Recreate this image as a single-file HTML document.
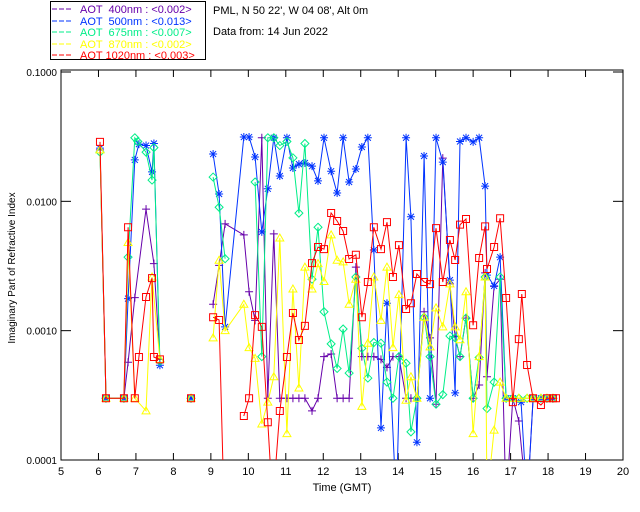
<!DOCTYPE html>
<html><head><meta charset="utf-8"><style>
html,body{margin:0;padding:0;background:#fff;width:640px;height:512px;overflow:hidden;}
svg{display:block;font-family:"Liberation Sans",sans-serif;}
</style></head><body>
<svg id="chart" width="640" height="512" viewBox="0 0 640 512" xmlns="http://www.w3.org/2000/svg">
<defs><clipPath id="pc"><rect x="61" y="70" width="562" height="390"/></clipPath></defs>
<g>
<rect x="50.5" y="1.5" width="155" height="58" fill="#fff" stroke="#000"/>
<g font-size="11">
<line x1="52" y1="9" x2="73" y2="9" stroke="#6600aa" stroke-dasharray="5,2"/><text x="80" y="13" fill="#6600aa" xml:space="preserve">AOT  400nm : &lt;0.002&gt;</text>
<line x1="52" y1="21" x2="73" y2="21" stroke="#0033ff" stroke-dasharray="5,2"/><text x="80" y="25" fill="#0033ff" xml:space="preserve">AOT  500nm : &lt;0.013&gt;</text>
<line x1="52" y1="32" x2="73" y2="32" stroke="#00ee88" stroke-dasharray="5,2"/><text x="80" y="36" fill="#00ee88" xml:space="preserve">AOT  675nm : &lt;0.007&gt;</text>
<line x1="52" y1="44" x2="73" y2="44" stroke="#ffff00" stroke-dasharray="5,2"/><text x="80" y="48" fill="#ffff00" xml:space="preserve">AOT  870nm : &lt;0.002&gt;</text>
<line x1="52" y1="55" x2="73" y2="55" stroke="#ff0000" stroke-dasharray="5,2"/><text x="80" y="59" fill="#ff0000" xml:space="preserve">AOT 1020nm : &lt;0.003&gt;</text>
</g></g>
<text x="213" y="14" font-size="11">PML, N 50 22', W 04 08', Alt 0m</text>
<text x="213" y="35" font-size="11">Data from: 14 Jun 2022</text>
<rect x="61" y="70" width="562" height="390" fill="none" stroke="#000"/>
<g id="axes"></g>
<g id="series" clip-path="url(#pc)"></g>
<text x="342" y="491" font-size="11" text-anchor="middle">Time (GMT)</text>
<text x="0" y="0" font-size="10" text-anchor="middle" transform="translate(15,268) rotate(-90)">Imaginary Part of Refractive Index</text>
</svg>
<script>
const xTicks=[5,6,7,8,9,10,11,12,13,14,15,16,17,18,19,20];
const yTicks=[0.1,0.01,0.001,0.0001];
const yTickLabels=["0.1000","0.0100","0.0010","0.0001"];
const t400=[6.04,6.20,6.68,6.79,6.97,7.27,7.48,7.64,8.47,9.06,9.22,9.38,9.88,10.02,10.18,10.36,10.52,10.68,10.84,11.03,11.19,11.35,11.51,11.70,11.86,12.02,12.21,12.37,12.53,12.69,12.87,13.03,13.19,13.35,13.54,13.70,13.86,14.02,14.21,14.34,14.50,14.69,14.85,15.01,15.19,15.38,15.52,15.65,15.81,16.00,16.16,16.32,16.37,16.56,16.72,16.88,17.06,17.22,17.44,17.60,17.81,17.97,18.13];
const v400=[0.025,0.0003,0.0003,0.00057,0.0018,0.0087,0.0033,0.0006,0.0003,0.0016,0.0032,0.0067,0.0055,0.002,0.0012,0.031,0.0003,0.0056,0.0003,0.0003,0.0003,0.0003,0.0003,0.00024,0.0003,0.00063,0.00066,0.0003,0.0003,0.0003,0.0031,0.00063,0.00063,0.00063,0.0006,0.00052,0.00063,0.00063,0.0003,0.0003,0.0003,0.0014,0.00088,0.00027,0.0216,0.0023,0.0009,0.00063,0.00125,0.0003,0.00038,0.0028,0.00044,0.0022,0.0025,0.00003,0.0003,0.0002,0.00003,0.0003,0.0003,0.0003,0.0003];
const t500=[6.04,6.20,6.68,6.79,6.97,7.08,7.27,7.43,7.48,7.64,8.47,9.06,9.22,9.38,9.88,10.02,10.18,10.36,10.52,10.68,10.84,11.03,11.19,11.35,11.51,11.70,11.86,12.02,12.21,12.37,12.53,12.69,12.87,13.03,13.19,13.35,13.54,13.70,13.95,14.21,14.34,14.50,14.69,14.85,15.01,15.19,15.38,15.52,15.65,15.81,16.00,16.16,16.32,16.37,16.56,16.72,16.88,17.06,17.28,17.44,17.60,17.81,17.97,18.13];
const v500=[0.0258,0.0003,0.0003,0.00177,0.0209,0.0277,0.027,0.0169,0.028,0.00054,0.0003,0.0232,0.0114,0.00107,0.0314,0.0314,0.022,0.0058,0.0125,0.031,0.0157,0.031,0.0181,0.0194,0.0198,0.0187,0.0144,0.031,0.0171,0.0116,0.031,0.0141,0.0178,0.0263,0.031,0.0042,0.000177,0.00163,0.00003,0.031,0.0076,0.000137,0.0224,0.0003,0.031,0.0201,0.00246,0.00033,0.029,0.031,0.0288,0.031,0.0131,0.00269,0.00222,0.0037,0.0003,0.0003,0.00028,0.00003,0.0003,0.0003,0.0003,0.0003];
const t675=[6.04,6.20,6.68,6.79,6.97,7.05,7.27,7.43,7.48,7.64,8.47,9.06,9.22,9.38,10.18,10.36,10.52,10.68,10.84,11.03,11.19,11.35,11.51,11.70,11.86,12.02,12.21,12.37,12.53,12.69,12.87,13.03,13.19,13.35,13.54,13.70,13.86,14.02,14.21,14.34,14.50,14.69,14.85,15.01,15.19,15.38,15.52,15.65,15.81,16.00,16.16,16.32,16.37,16.56,16.72,16.88,17.06,17.22,17.44,17.60,17.81,17.97,18.13];
const v675=[0.024,0.0003,0.0003,0.0037,0.031,0.029,0.024,0.0146,0.026,0.00058,0.0003,0.0154,0.009,0.0036,0.0141,0.00063,0.031,0.031,0.027,0.029,0.0217,0.0081,0.028,0.0025,0.0063,0.0014,0.00079,0.00051,0.00103,0.00047,0.0026,0.00073,0.00043,0.00081,0.0008,0.0004,0.0003,0.00063,0.00056,0.000165,0.0003,0.00127,0.00063,0.00027,0.00032,0.00091,0.00088,0.00063,0.00125,0.0003,0.00062,0.0026,0.00025,0.0004,0.0026,0.0003,0.0003,0.0003,0.0003,0.0003,0.0003,0.0003,0.0003];
const t870=[6.04,6.20,6.68,6.79,6.97,7.27,7.43,7.64,8.47,9.06,9.22,9.38,9.88,10.02,10.18,10.36,10.52,10.68,10.84,11.03,11.19,11.35,11.51,11.70,11.86,12.02,12.21,12.37,12.53,12.69,12.87,13.03,13.19,13.35,13.54,13.70,13.86,14.02,14.21,14.34,14.50,14.69,14.85,15.01,15.19,15.38,15.52,15.65,15.81,16.00,16.16,16.32,16.37,16.56,16.72,16.88,17.06,17.22,17.44,17.60,17.81,17.97,18.13];
const v870=[0.025,0.0003,0.0003,0.0048,0.0003,0.00024,0.0026,0.0006,0.0003,0.00088,0.0035,0.001,0.0016,0.00074,0.00061,0.00019,0.00028,0.00044,0.0052,0.00016,0.0021,0.00036,0.0031,0.0021,0.0033,0.0024,0.0055,0.0035,0.0034,0.0016,0.0025,0.00026,0.0008,0.0026,0.0012,0.0031,0.00074,0.0019,0.00029,0.00044,0.0003,0.00127,0.00075,0.0015,0.00107,0.0023,0.00107,0.00085,0.002,0.00016,0.00063,0.0026,0.00005,0.00017,0.0004,0.0003,0.0003,0.0003,0.0003,0.0003,0.0003,0.0003,0.0003];
const t1020=[6.04,6.20,6.68,6.79,6.97,7.08,7.27,7.43,7.48,7.64,8.47,9.06,9.22,9.35,9.88,10.02,10.18,10.36,10.52,10.65,10.84,11.03,11.19,11.35,11.51,11.70,11.86,12.02,12.21,12.37,12.53,12.69,12.87,13.03,13.19,13.35,13.54,13.70,13.86,14.02,14.21,14.34,14.50,14.69,14.85,15.01,15.19,15.38,15.52,15.65,15.81,16.00,16.16,16.32,16.37,16.56,16.72,16.88,17.06,17.22,17.30,17.44,17.60,17.81,17.97,18.13,18.21];
const v1020=[0.0288,0.0003,0.0003,0.0063,0.0003,0.000625,0.00182,0.00255,0.000625,0.0006,0.0003,0.00127,0.00121,0.00002,0.000219,0.0003,0.00132,0.00107,0.000196,0.00003,0.000239,0.000625,0.00137,0.000846,0.00109,0.00333,0.00443,0.00427,0.00812,0.00704,0.00589,0.00358,0.00386,0.00127,0.00238,0.0063,0.00427,0.0069,0.0026,0.00459,0.00147,0.00163,0.00274,0.00238,0.00229,0.0062,0.00238,0.00502,0.00352,0.0066,0.0073,0.0011,0.00365,0.0064,0.003,0.00443,0.0074,0.00179,0.00028,0.00086,0.00192,0.000542,0.0003,0.000266,0.0003,0.0003,0.0003];

const NS='http://www.w3.org/2000/svg';
function xs(t){return 61+(t-5)*562/15;}
function ys(v){return 72+(-1-Math.log10(v))*129.33;}
function mk(tag,attrs,parent){const e=document.createElementNS(NS,tag);for(const k in attrs)e.setAttribute(k,attrs[k]);parent.appendChild(e);return e;}
const axes=document.getElementById('axes');
xTicks.forEach(t=>{
  const x=xs(t);
  const a=mk('line',{x1:x,y1:460,x2:x,y2:453,stroke:'#000'},axes);
  
  
  mk('line',{x1:x,y1:70,x2:x,y2:77,stroke:'#000'},axes);
  const l=mk('text',{x:x,y:475,'font-size':11,'text-anchor':'middle'},axes);
  l.textContent=t;
  
  
});
yTicks.forEach((v,i)=>{
  const y=ys(v);
  const a=mk('line',{x1:61,y1:y,x2:71,y2:y,stroke:'#000'},axes);
  
  
  mk('line',{x1:623,y1:y,x2:613,y2:y,stroke:'#000'},axes);
  const l=mk('text',{x:57,y:y+4,'font-size':10,'text-anchor':'end'},axes);
  l.textContent=yTickLabels[i];
  
  
});
function sym(type,x,y,c,g){
  let d='';
  if(type==='plus')d=`M${x-4},${y}h8M${x},${y-4}v8`;
  else if(type==='ast')d=`M${x-4},${y}h8M${x},${y-4}v8M${x-3},${y-3}l6,6M${x-3},${y+3}l6,-6`;
  else if(type==='dia')d=`M${x},${y-4}l4,4l-4,4l-4,-4z`;
  else if(type==='tri')d=`M${x},${y-4}l4,7h-8z`;
  else d=`M${x-3.5},${y-3.5}h7v7h-7z`;
  const p=mk('path',{d:d,fill:'none',stroke:c,'stroke-width':1},g);
  
  
}
const series=[
 {n:'series-400nm',t:t400,v:v400,c:'#6600aa',s:'plus'},
 {n:'series-500nm',t:t500,v:v500,c:'#0033ff',s:'ast'},
 {n:'series-675nm',t:t675,v:v675,c:'#00ee88',s:'dia'},
 {n:'series-870nm',t:t870,v:v870,c:'#ffff00',s:'tri'},
 {n:'series-1020nm',t:t1020,v:v1020,c:'#ff0000',s:'sq'}];
const sg=document.getElementById('series');
series.forEach(S=>{
  const g=mk('g',{},sg);
  
  
  let d='';
  for(let i=0;i<S.t.length;i++){
    const x=xs(S.t[i]),y=Math.min(ys(S.v[i]),505);
    const brk=i===0||S.t[i]-S.t[i-1]>0.5;
    d+=(brk?'M':'L')+x.toFixed(1)+','+y.toFixed(1);
  }
  const p=mk('path',{d:d,fill:'none',stroke:S.c,'stroke-width':1},g);
  
  
  for(let i=0;i<S.t.length;i++){
    if(S.v[i]<0.0001)continue;
    sym(S.s,xs(S.t[i]),ys(S.v[i]),S.c,g);
  }
});
</script>
</body></html>
